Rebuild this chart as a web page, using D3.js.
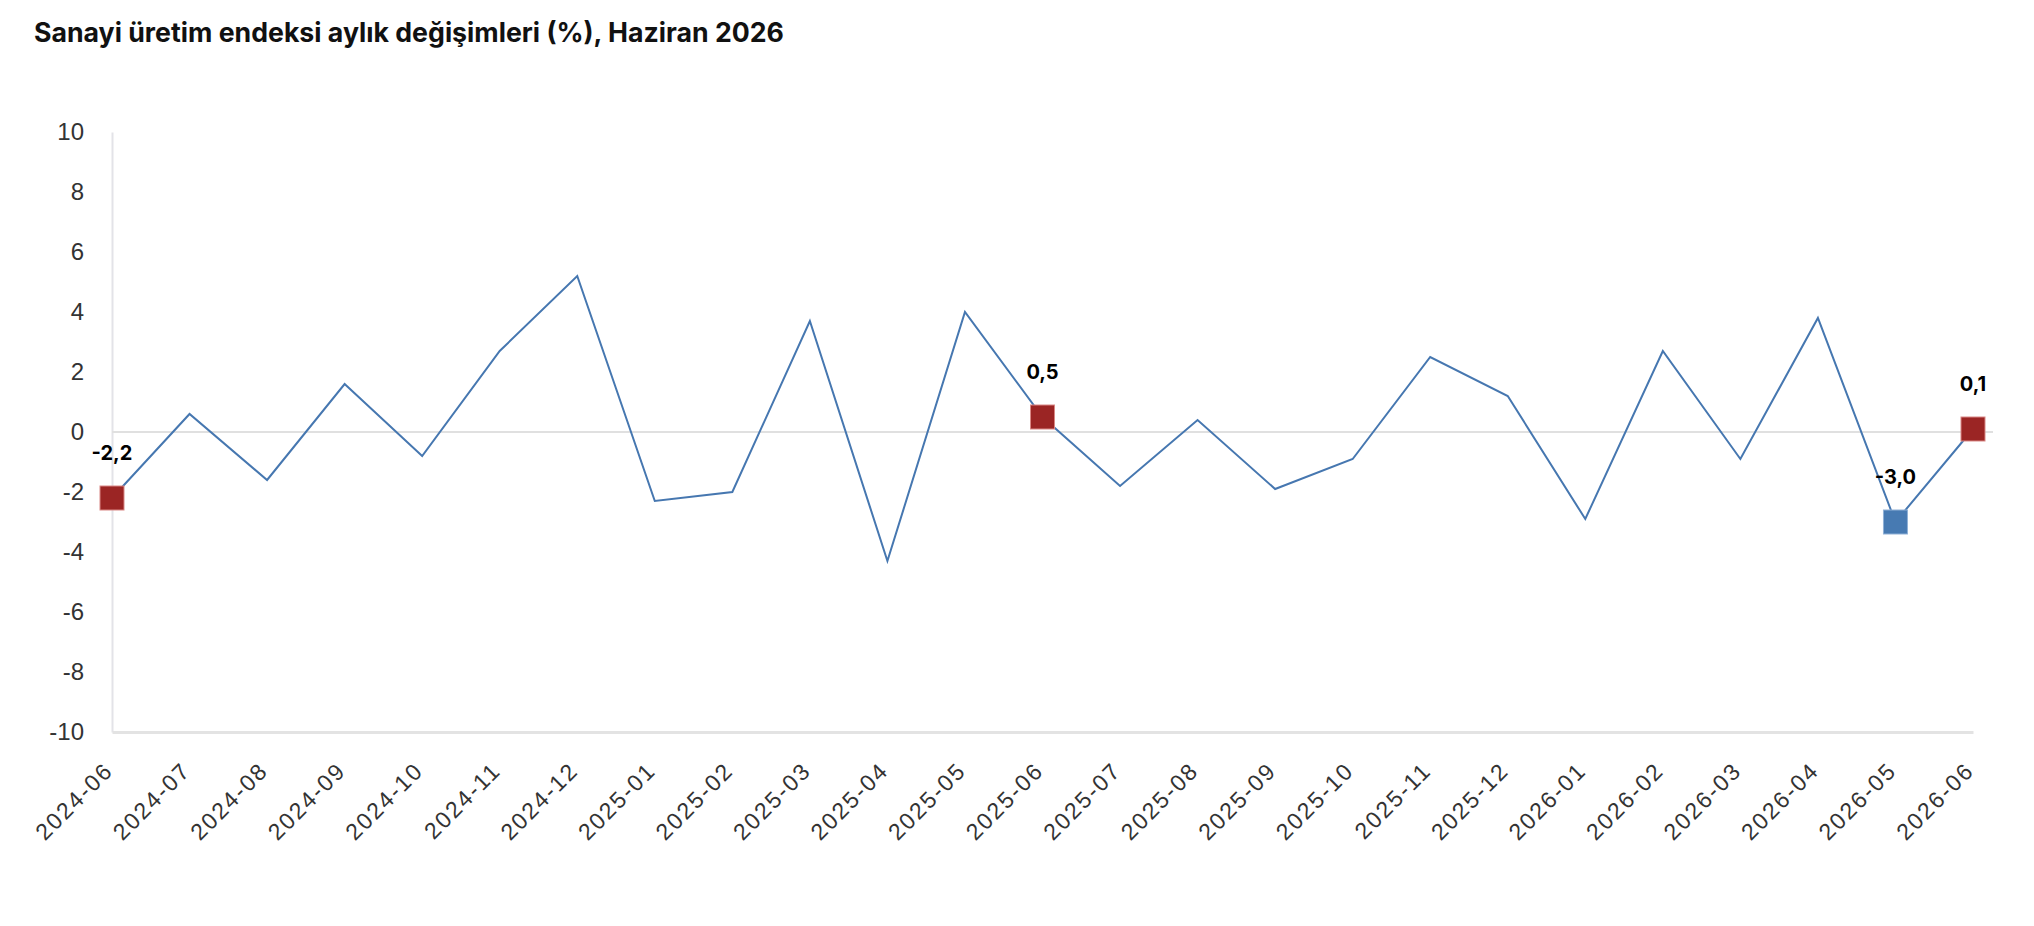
<!DOCTYPE html>
<html>
<head>
<meta charset="utf-8">
<script src="https://cdn.jsdelivr.net/npm/d3@7"></script>
<style>
  html, body { margin: 0; padding: 0; background: #fff; }
  svg { display: block; font-family: Inter, "Noto Sans", sans-serif; }
  .title { font-size: 26.7px; font-weight: 700; fill: #111; }
  .tick text { font-size: 24px; fill: #333; }
  .x-axis .tick text { font-size: 23px; letter-spacing: 2px; }
  .val-label { font-size: 20px; font-weight: 700; fill: #000; }
</style>
</head>
<body>
<svg id="chart"></svg>
<script>
// Aylar
const months = [
  "2024-06", "2024-07", "2024-08", "2024-09", "2024-10", "2024-11", "2024-12",
  "2025-01", "2025-02", "2025-03", "2025-04", "2025-05", "2025-06", "2025-07",
  "2025-08", "2025-09", "2025-10", "2025-11", "2025-12", "2026-01", "2026-02",
  "2026-03", "2026-04", "2026-05", "2026-06"
];

// Aylık değişim (%)
const changes = [
  -2.2, 0.6, -1.6, 1.6, -0.8, 2.7, 5.2,
  -2.3, -2.0, 3.7, -4.3, 4.0, 0.5, -1.8,
  0.4, -1.9, -0.9, 2.5, 1.2, -2.9, 2.7,
  -0.9, 3.8, -3.0, 0.1
];

// İşaretli noktalar
const highlightMonths = ["2024-06", "2025-06", "2026-05", "2026-06"];
const highlightKinds = ["red", "red", "blue", "red"];

const yTicks = [10, 8, 6, 4, 2, 0, -2, -4, -6, -8, -10];

const width = 2034;
const height = 926;

const svg = d3.select("#chart")
  .attr("width", width)
  .attr("height", height);

const x = d3.scalePoint()
  .domain(months)
  .range([112, 1973]);

const y = d3.scaleLinear()
  .domain([-10, 10])
  .range([732, 132]);

// Başlık
svg.append("text")
  .attr("class", "title")
  .attr("x", 34)
  .attr("y", 42)
  .text("Sanayi üretim endeksi aylık değişimleri (%), Haziran 2026");

// Y ekseni
const yAxis = svg.append("g")
  .attr("transform", `translate(${x.range()[0]},0)`)
  .call(d3.axisLeft(y).tickValues(yTicks).tickSize(0).tickPadding(28).tickFormat(d => String(d)));
yAxis.select(".domain").attr("stroke", "#e3e3e8").attr("stroke-width", 2);

// X ekseni
const xAxis = svg.append("g")
  .attr("class", "x-axis")
  .attr("transform", `translate(0,${y(-10)})`)
  .call(d3.axisBottom(x).tickSize(0).tickPadding(0));
xAxis.select(".domain").attr("stroke", "#e3e3e3").attr("stroke-width", 3);
xAxis.selectAll(".tick text")
  .attr("text-anchor", "end")
  .attr("dy", null)
  .attr("y", 0)
  .attr("transform", "translate(2,40) rotate(-45)");

// Sıfır çizgisi
svg.append("line")
  .attr("x1", x.range()[0])
  .attr("x2", x.range()[1] + 20)
  .attr("y1", y(0))
  .attr("y2", y(0))
  .attr("stroke", "#e0e0e0")
  .attr("stroke-width", 2);

// Çizgi
const line = d3.line()
  .x((d, i) => x(months[i]))
  .y(d => y(d));

svg.append("path")
  .datum(changes)
  .attr("fill", "none")
  .attr("stroke", "#4677b0")
  .attr("stroke-width", 2)
  .attr("stroke-linejoin", "miter")
  .attr("d", line);

// İşaretler ve etiketler
const colors = { red: "#9b2524", blue: "#477ab2" };
const strokes = { red: "#d98885", blue: "#8fb0d6" };
const marks = highlightMonths.map((m, i) => ({
  month: m,
  value: changes[months.indexOf(m)],
  kind: highlightKinds[i]
}));

const size = 24;
svg.selectAll(".marker")
  .data(marks)
  .join("rect")
  .attr("class", "marker")
  .attr("x", d => x(d.month) - size / 2)
  .attr("y", d => y(d.value) - size / 2)
  .attr("width", size)
  .attr("height", size)
  .attr("fill", d => colors[d.kind])
  .attr("stroke", d => strokes[d.kind])
  .attr("stroke-width", 1);

const fmt = v => v.toFixed(1).replace(".", ",");
svg.selectAll(".val-label")
  .data(marks)
  .join("text")
  .attr("class", "val-label")
  .attr("x", d => x(d.month))
  .attr("y", d => y(d.value) - 38)
  .attr("text-anchor", "middle")
  .text(d => fmt(d.value));
</script>
</body>
</html>
